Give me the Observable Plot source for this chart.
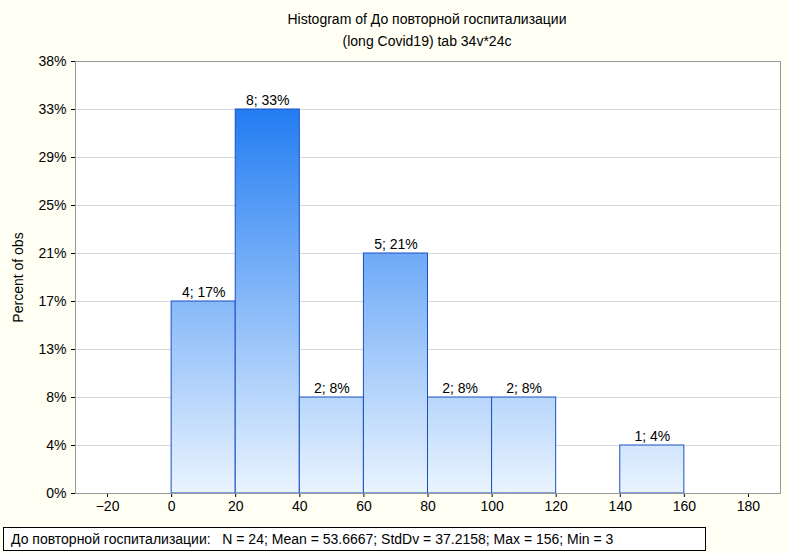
<!DOCTYPE html>
<html><head><meta charset="utf-8">
<script src="https://cdn.jsdelivr.net/npm/d3@7"></script>
<script src="https://cdn.jsdelivr.net/npm/@observablehq/plot@0.6"></script>
<style>body{margin:0;background:#FFFFF4}</style>
</head><body><div id="chart"></div>
<script>
const binStart = [0, 20, 40, 60, 80, 100, 120, 140];
const counts = [4, 8, 2, 5, 2, 2, 0, 1];
const N = 24;
const xTicks = [-20, 0, 20, 40, 60, 80, 100, 120, 140, 160, 180];
const yTicks = [0, 1, 2, 3, 4, 5, 6, 7, 8, 9];
const title1 = "Histogram of До повторной госпитализации";
const title2 = "(long Covid19) tab 34v*24c";
const footer = "До повторной госпитализации:   N = 24; Mean = 53.6667; StdDv = 37.2158; Max = 156; Min = 3";

const bins = binStart.map((x, i) => ({x1: x, x2: x + 20, n: counts[i]})).filter(d => d.n > 0);
const pct = n => Math.round(n / N * 100) + "%";

const chart = Plot.plot({
  width: 788, height: 553,
  marginTop: 61, marginLeft: 75, marginRight: 8, marginBottom: 60,
  style: {fontFamily: "Liberation Sans, Arial, sans-serif", fontSize: "14px", background: "#FFFFF4", color: "#000"},
  x: {domain: [-30, 190], ticks: xTicks, label: null, tickSize: 4, tickPadding: 4},
  y: {domain: [0, 9], ticks: yTicks, tickFormat: pct, label: "Percent of obs", labelAnchor: "center", labelArrow: "none", labelOffset: 62, tickSize: 4},
  marks: [
    Plot.rect([0], {x1: -30, x2: 190, y1: 0, y2: 9, fill: "white"}),
    Plot.gridY(yTicks, {stroke: "#d8d8d8", strokeOpacity: 1}),
    Plot.rectY(bins, {x1: "x1", x2: "x2", y: "n", fill: "url(#barGrad)", stroke: "#1a4fc4", strokeWidth: 1}),
    Plot.text(bins, {x: d => (d.x1 + d.x2) / 2, y: "n", text: d => d.n + "; " + pct(d.n), dy: -9, fontSize: 14}),
    Plot.frame({stroke: "#999"})
  ]
});

const svg = d3.select(chart);
const grad = svg.append("defs").append("linearGradient")
  .attr("id", "barGrad").attr("gradientUnits", "userSpaceOnUse")
  .attr("x1", 0).attr("x2", 0).attr("y1", 61).attr("y2", 493);
grad.append("stop").attr("offset", "0%").attr("stop-color", "#0a6ef0");
grad.append("stop").attr("offset", "100%").attr("stop-color", "#eaf4ff");

svg.append("text").attr("x", 427).attr("y", 24).attr("text-anchor", "middle").attr("font-size", 14).text(title1);
svg.append("text").attr("x", 427).attr("y", 46).attr("text-anchor", "middle").attr("font-size", 14).text(title2);
svg.append("rect").attr("x", 3.5).attr("y", 527.5).attr("width", 702).attr("height", 23).attr("fill", "white").attr("stroke", "#000");
svg.append("text").attr("x", 11).attr("y", 544).attr("text-anchor", "start").attr("font-size", 14).text(footer);

d3.select("#chart").append(() => chart);
</script>
</body></html>
